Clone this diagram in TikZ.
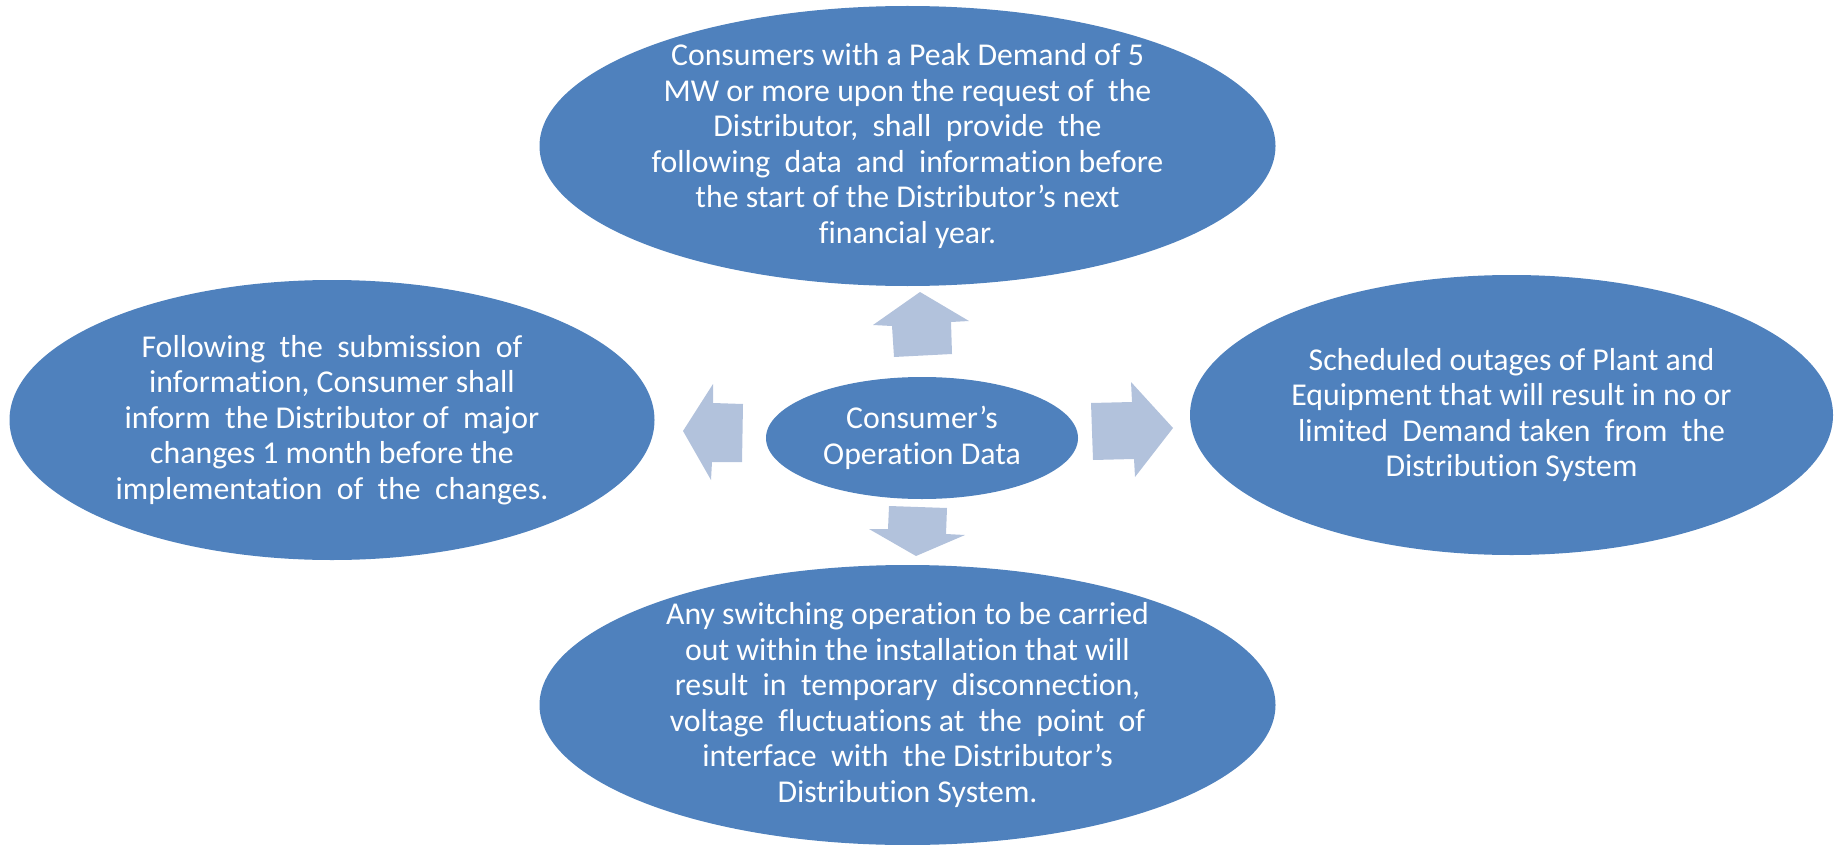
\documentclass[tikz,border=0pt]{standalone}
\usepackage{fontspec}
\setmainfont{Carlito}[Ligatures={NoCommon}]
\usetikzlibrary{shapes.geometric}
\definecolor{ellblue}{RGB}{79,129,189}
\definecolor{arrblue}{RGB}{178,194,220}
\begin{document}
\begin{tikzpicture}[x=1pt,y=-1pt,
  bigell/.style={ellipse, fill=ellblue, draw=none, inner sep=0pt, outer sep=0pt},
  txt/.style={text=white, align=center, font=\fontsize{31.8}{35.5}\selectfont, inner sep=0pt},
  blockarrow/.style={fill=arrblue, draw=none}]
\useasboundingbox (0,0) rectangle (1835,845);

% ellipses
\node[bigell, minimum width=736pt, minimum height=280pt] (top) at (907.5,146) {};
\node[bigell, minimum width=645pt, minimum height=280pt] (left) at (332,420) {};
\node[bigell, minimum width=643pt, minimum height=280pt] (right) at (1511.5,415) {};
\node[bigell, minimum width=736pt, minimum height=280pt] (bottom) at (907.5,705) {};
\node[bigell, minimum width=312pt, minimum height=122pt] (center) at (922,438) {};

% texts
\node[txt] (toptext) at (top.center) {Consumers with a Peak Demand of 5\\ MW or more upon the request of~ the\\ Distributor,~ shall~ provide~ the\\ following~ data~ and~ information before\\ the start of the Distributor’s next\\ financial year.};
\node[txt] (lefttext) at (left.center) {Following~ the~ submission~ of\\ information, Consumer shall\\ inform~ the Distributor of~ major\\ changes 1 month before the\\ implementation~ of~ the~ changes.};
\node[txt] (righttext) at (right.center) {Scheduled outages of Plant and\\ Equipment that will result in no or\\ limited~ Demand taken~ from~ the\\ Distribution System};
\node[txt] (bottomtext) at (bottom.center) {Any switching operation to be carried\\ out within the installation that will\\ result~ in~ temporary~ disconnection,\\ voltage~ fluctuations at~ the~ point~ of\\ interface~ with~ the Distributor’s\\ Distribution System.};
\node[txt] (centertext) at (center.center) {Consumer’s\\ Operation Data};

% block arrows
\fill[blockarrow] (920,292) -- (969,321) -- (951,322) -- (952,354) -- (894,357) -- (892,326) -- (873,325) -- cycle;
\fill[blockarrow] (683,431) -- (713,384) -- (713,403) -- (743,404) -- (742,462) -- (712,462) -- (711,480) -- cycle;
\fill[blockarrow] (1091,403) -- (1132,402) -- (1131,382) -- (1173,428) -- (1135,477) -- (1134,459) -- (1093,460) -- cycle;
\fill[blockarrow] (889,506) -- (947,508) -- (946,534) -- (965,535) -- (916,556) -- (869,529) -- (888,529) -- cycle;
\end{tikzpicture}
\end{document}
